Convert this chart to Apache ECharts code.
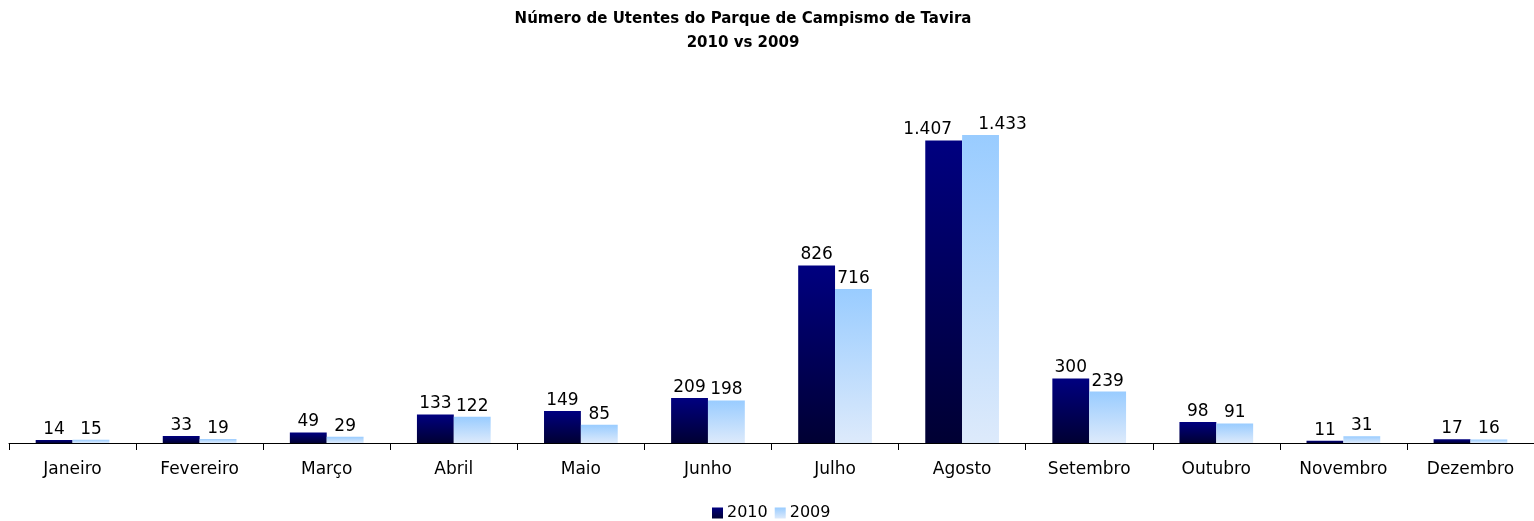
<html>
<head>
    <meta charset='UTF-8'>
    <title>Utentes Parque de Campismo de Tavira</title>
    <style>
        html, body { margin: 0; padding: 0; background: #ffffff; }
        #chart { width: 1534px; height: 521px; }
    </style>
</head>
<body>
<div id='chart'></div>
<script src='https://cdn.jsdelivr.net/npm/echarts@6/dist/echarts.min.js'></script>
<script>
    var meses = ['Janeiro', 'Fevereiro', 'Março', 'Abril', 'Maio', 'Junho', 'Julho', 'Agosto', 'Setembro', 'Outubro', 'Novembro', 'Dezembro'];
    var anos = ['2010', '2009'];
    var utentes2010 = [14, 33, 49, 133, 149, 209, 826, 1407, 300, 98, 11, 17];
    var utentes2009 = [15, 19, 29, 122, 85, 198, 716, 1433, 239, 91, 31, 16];

    var fonte = 'DejaVu Sans, Verdana, sans-serif';

    // 1.407 em vez de 1,407
    function milhares(p) {
        return String(p.value).replace(/\B(?=(\d{3})+(?!\d))/g, '.');
    }

    function grad(topo, base) {
        return new echarts.graphic.LinearGradient(0, 0, 0, 1, [
            { offset: 0, color: topo },
            { offset: 1, color: base }
        ]);
    }

    // Agosto: as etiquetas afastam-se para não se sobreporem (como no Excel)
    function afastar(valores, dx) {
        return valores.map(function (v, i) {
            return i === 7 ? { value: v, label: { offset: [dx, 0] } } : v;
        });
    }

    var chart = echarts.init(document.getElementById('chart'));
    var option = {
        animation: false,
        title: {
            text: 'Número de Utentes do Parque de Campismo de Tavira\n2010 vs 2009',
            left: 738,
            top: 2,
            textAlign: 'center',
            textStyle: {
                fontFamily: fonte,
                fontSize: 15,
                fontWeight: 'bold',
                color: '#000',
                lineHeight: 24
            }
        },
        legend: {
            data: anos,
            bottom: -5,
            left: 707,
            itemWidth: 11,
            itemHeight: 11,
            itemGap: 7,
            icon: 'rect',
            textStyle: { fontFamily: fonte, fontSize: 16, color: '#000', padding: [0, 0, 0, -1] }
        },
        grid: { left: 9, right: -4, top: 99, bottom: 78, containLabel: false },
        xAxis: {
            type: 'category',
            data: meses,
            axisLine: { lineStyle: { color: '#000', width: 1 } },
            axisTick: { show: true, alignWithLabel: false, interval: 0, length: 7, lineStyle: { color: '#000' } },
            axisLabel: { fontFamily: fonte, fontSize: 17, color: '#000', margin: 18, interval: 0 }
        },
        yAxis: {
            type: 'value',
            min: 0,
            max: 1600,
            show: false,
            splitLine: { show: false }
        },
        series: [
            {
                name: '2010',
                type: 'bar',
                data: afastar(utentes2010, -16),
                barGap: '0%',
                barCategoryGap: '42%',
                itemStyle: { color: grad('#000080', '#000033') },
                label: {
                    show: true, position: 'top', distance: 2,
                    fontFamily: fonte, fontSize: 17, color: '#000',
                    formatter: milhares
                }
            },
            {
                name: '2009',
                type: 'bar',
                data: afastar(utentes2009, 22),
                itemStyle: { color: grad('#99ccff', '#ddeafb') },
                label: {
                    show: true, position: 'top', distance: 2,
                    fontFamily: fonte, fontSize: 17, color: '#000',
                    formatter: milhares
                }
            }
        ]
    };
    chart.setOption(option);
</script>
</body>
</html>
